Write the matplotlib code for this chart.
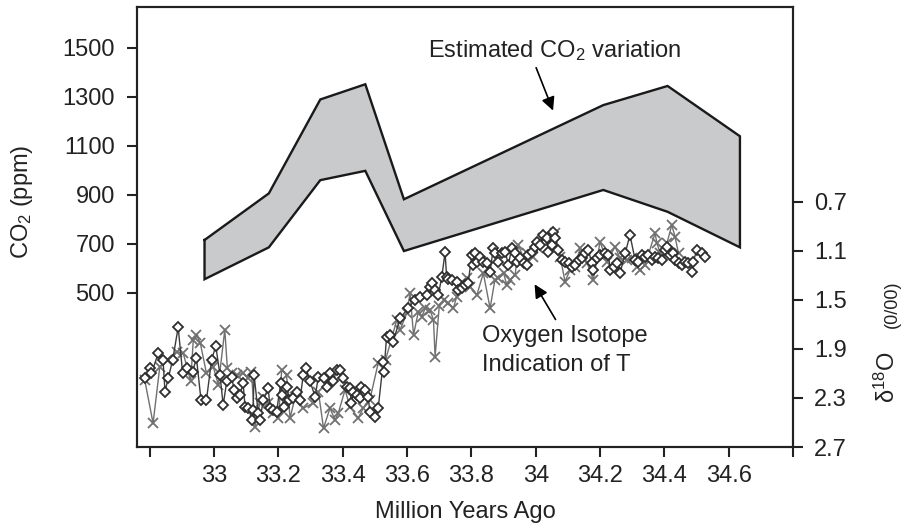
import matplotlib
matplotlib.use("Agg")
import matplotlib.pyplot as plt
import numpy as np

plt.rcParams['font.family'] = ['Liberation Sans', 'DejaVu Sans']
plt.rcParams['mathtext.fontset'] = 'custom'
plt.rcParams['mathtext.rm'] = 'Liberation Sans'
plt.rcParams['mathtext.it'] = 'Liberation Sans:italic'

# estimated CO2 band (ppm) vs age (Ma)
band_x = [32.97, 33.17, 33.33, 33.47, 33.59, 34.21, 34.41, 34.635]
band_hi = [716, 906, 1289, 1351, 882, 1266, 1344, 1139]
band_lo = [556, 686, 960, 998, 671, 920, 831, 686]

# oxygen isotope record, diamond series
iso_d_x = [32.784, 32.800, 32.805, 32.826, 32.841, 32.847, 32.857, 32.871, 32.888, 32.902,
           32.914, 32.933, 32.945, 32.959, 32.976, 32.992, 33.005, 33.018, 33.028, 33.039,
           33.054, 33.062, 33.070, 33.080, 33.090, 33.096, 33.106, 33.118, 33.121, 33.124,
           33.137, 33.142, 33.153, 33.168, 33.174, 33.184, 33.194, 33.207, 33.210, 33.217,
           33.225, 33.234, 33.246, 33.257, 33.267, 33.277, 33.286, 33.298, 33.314, 33.324,
           33.340, 33.350, 33.360, 33.370, 33.381, 33.391, 33.401, 33.412, 33.422, 33.427,
           33.433, 33.443, 33.453, 33.458, 33.469, 33.479, 33.484, 33.500, 33.510, 33.526,
           33.528, 33.536, 33.547, 33.557, 33.578, 33.603, 33.624, 33.640, 33.661, 33.671,
           33.677, 33.687, 33.697, 33.708, 33.718, 33.723, 33.728, 33.739, 33.754, 33.759,
           33.770, 33.780, 33.790, 33.801, 33.806, 33.811, 33.817, 33.827, 33.837, 33.848,
           33.858, 33.868, 33.873, 33.884, 33.894, 33.905, 33.915, 33.925, 33.936, 33.941,
           33.951, 33.962, 33.972, 33.977, 33.988, 33.998, 34.003, 34.013, 34.024, 34.034,
           34.039, 34.050, 34.055, 34.060, 34.070, 34.081, 34.091, 34.102, 34.112, 34.122,
           34.133, 34.143, 34.153, 34.164, 34.174, 34.179, 34.190, 34.200, 34.216, 34.226,
           34.232, 34.242, 34.252, 34.262, 34.278, 34.293, 34.309, 34.319, 34.330, 34.340,
           34.350, 34.361, 34.371, 34.381, 34.392, 34.402, 34.408, 34.418, 34.428, 34.433,
           34.444, 34.454, 34.465, 34.475, 34.485, 34.490, 34.501, 34.517, 34.527]
iso_d_y = [2.139, 2.058, 2.099, 1.936, 1.990, 2.248, 2.139, 1.990, 1.724, 2.099,
           2.058, 2.085, 1.976, 2.316, 2.316, 1.990, 1.876, 2.112, 2.357, 2.166,
           2.126, 2.234, 2.302, 2.275, 2.180, 2.370, 2.384, 2.479, 2.397, 2.112,
           2.424, 2.479, 2.316, 2.221, 2.384, 2.397, 2.411, 2.180, 2.275, 2.370,
           2.207, 2.316, 2.302, 2.248, 2.316, 2.112, 2.058, 2.166, 2.289, 2.126,
           2.139, 2.207, 2.099, 2.166, 2.071, 2.071, 2.139, 2.207, 2.221, 2.343,
           2.248, 2.275, 2.302, 2.207, 2.234, 2.289, 2.411, 2.452, 2.384, 2.003,
           2.085, 1.805, 1.786, 1.840, 1.650, 1.570, 1.500, 1.480, 1.460, 1.392,
           1.365, 1.419, 1.460, 1.311, 1.112, 1.318, 1.332, 1.338, 1.351, 1.419,
           1.406, 1.379, 1.365, 1.134, 1.216, 1.121, 1.188, 1.148, 1.188, 1.202,
           1.270, 1.080, 1.121, 1.188, 1.121, 1.107, 1.216, 1.080, 1.121, 1.188,
           1.161, 1.202, 1.216, 1.134, 1.107, 1.066, 1.026, 1.053, 0.971, 0.998,
           1.107, 1.053, 0.944, 0.998, 1.093, 1.175, 1.188, 1.202, 1.229, 1.216,
           1.175, 1.161, 1.121, 1.093, 1.202, 1.256, 1.161, 1.134, 1.121, 1.134,
           1.256, 1.229, 1.202, 1.284, 1.121, 0.971, 1.175, 1.188, 1.134, 1.148,
           1.134, 1.175, 1.148, 1.161, 1.175, 1.093, 1.066, 1.134, 1.121, 1.175,
           1.202, 1.216, 1.188, 1.202, 1.270, 1.188, 1.093, 1.121, 1.148]

# oxygen isotope record, cross series
iso_x_x = [32.784, 32.810, 32.831, 32.852, 32.883, 32.904, 32.927, 32.935, 32.945, 32.957,
           32.976, 32.997, 33.013, 33.033, 33.041, 33.054, 33.070, 33.090, 33.106, 33.116,
           33.127, 33.142, 33.153, 33.168, 33.184, 33.200, 33.210, 33.225, 33.236, 33.252,
           33.277, 33.307, 33.324, 33.340, 33.360, 33.376, 33.386, 33.407, 33.422, 33.448,
           33.463, 33.484, 33.510, 33.533, 33.568, 33.578, 33.599, 33.609, 33.620, 33.635,
           33.646, 33.656, 33.671, 33.682, 33.687, 33.700, 33.715, 33.728, 33.744, 33.754,
           33.770, 33.785, 33.796, 33.817, 33.837, 33.858, 33.873, 33.884, 33.900, 33.910,
           33.920, 33.936, 33.946, 33.962, 33.972, 33.993, 34.008, 34.024, 34.045, 34.060,
           34.076, 34.091, 34.107, 34.122, 34.138, 34.160, 34.179, 34.200, 34.221, 34.247,
           34.262, 34.283, 34.299, 34.314, 34.325, 34.340, 34.371, 34.377, 34.387, 34.408,
           34.423, 34.433, 34.444]
iso_x_y = [2.153, 2.506, 2.044, 1.990, 1.922, 1.936, 2.166, 1.827, 1.786, 1.854,
           2.099, 2.044, 2.194, 1.745, 2.058, 2.099, 2.112, 2.099, 2.139, 2.085,
           2.533, 2.343, 2.289, 2.343, 2.424, 2.465, 2.071, 2.112, 2.465, 2.289,
           2.384, 2.343, 2.248, 2.547, 2.384, 2.479, 2.424, 2.234, 2.370, 2.465,
           2.384, 2.316, 2.017, 1.990, 1.664, 1.745, 1.610, 1.447, 1.786, 1.596,
           1.637, 1.569, 1.582, 1.664, 1.963, 1.550, 1.500, 1.528, 1.569, 1.474,
           1.351, 1.324, 1.392, 1.460, 1.283, 1.569, 1.338, 1.324, 1.283, 1.379,
           1.338, 1.297, 1.053, 1.161, 1.121, 1.148, 1.080, 0.998, 1.012, 0.958,
           1.148, 1.351, 1.256, 1.229, 1.080, 1.200, 1.338, 1.026, 1.188, 1.066,
           1.161, 1.175, 1.161, 1.229, 1.256, 1.216, 0.958, 1.039, 1.121, 1.039,
           0.890, 0.985, 1.121]

x_ticks = [32.8, 33.0, 33.2, 33.4, 33.6, 33.8, 34.0, 34.2, 34.4, 34.6, 34.8]
x_labels = ['', '33', '33.2', '33.4', '33.6', '33.8', '34', '34.2', '34.4', '34.6', '']
co2_ticks = [500, 700, 900, 1100, 1300, 1500]
d18o_ticks = [0.7, 1.1, 1.5, 1.9, 2.3, 2.7]

ink = '#222222'
W, H = 909, 529
fig = plt.figure(figsize=(W / 100, H / 100), dpi=100)
ax = fig.add_axes([137 / W, 1 - 447 / H, 656 / W, 440 / H])
ax2 = ax.twinx()

# CO2 band
ax.fill_between(band_x, band_lo, band_hi, facecolor='#c9cacc', edgecolor='none', zorder=1)
poly_x = band_x + band_x[::-1] + [band_x[0]]
poly_y = band_hi + band_lo[::-1] + [band_hi[0]]
ax.plot(poly_x, poly_y, color='#1a1a1a', lw=1.7, solid_joinstyle='miter', zorder=2)

ax.set_xlim(32.76, 34.80)
ax.set_ylim(-128, 1666)
ax2.set_ylim(2.7, -0.887)

# isotope series
ax2.plot(iso_x_x, iso_x_y, color='#707070', lw=1.0, marker='x', ms=7, mew=1.3, zorder=3)
ax2.plot(iso_d_x, iso_d_y, color='#3c3c3c', lw=1.0, marker='D', ms=5.4, mew=1.3,
         mfc='white', mec='#2e2e2e', zorder=4)

ax.set_xticks(x_ticks)
ax.set_xticklabels(x_labels)
ax.set_yticks(co2_ticks)
ax2.set_yticks(d18o_ticks)
ax2.set_yticklabels([f'{v:.1f}' for v in d18o_ticks])

for a in (ax, ax2):
    for s in a.spines.values():
        s.set_linewidth(1.5)
        s.set_color(ink)
    a.tick_params(direction='out', length=7, width=1.5, color=ink,
                  labelsize=17, labelcolor=ink)
ax.tick_params(axis='y', pad=9)
ax.tick_params(axis='x', pad=6)
ax2.tick_params(axis='y', pad=8)

ax.set_xlabel('Million Years Ago', fontsize=17, color=ink, labelpad=10)
fig.text(22 / W, 1 - 202 / H, 'CO$_2$ (ppm)', rotation=90, fontsize=17, color=ink,
         ha='center', va='center')
fig.text(887 / W, 1 - 377 / H, 'δ$^{18}$O', rotation=90, fontsize=17, color=ink,
         ha='center', va='center')
fig.text(892 / W, 1 - 304 / H, '(0/00)', rotation=90, fontsize=13, color=ink,
         ha='center', va='center')

# annotations
ax.text(33.665, 1461, 'Estimated CO$_2$ variation', fontsize=17, color=ink,
        ha='left', va='baseline', zorder=5)
ax.annotate('', xy=(34.057, 1233), xytext=(33.998, 1429),
            arrowprops=dict(arrowstyle='-|>', color='black', lw=1.2, mutation_scale=20))
ax2.text(33.833, 1.84, 'Oxygen Isotope', fontsize=17, color=ink, ha='left', va='baseline', zorder=5)
ax2.text(33.833, 2.077, 'Indication of T', fontsize=17, color=ink, ha='left', va='baseline', zorder=5)
ax2.annotate('', xy=(33.992, 1.354), xytext=(34.066, 1.680),
             arrowprops=dict(arrowstyle='-|>', color='black', lw=1.2, mutation_scale=20))

fig.savefig('out.png', dpi=100)
